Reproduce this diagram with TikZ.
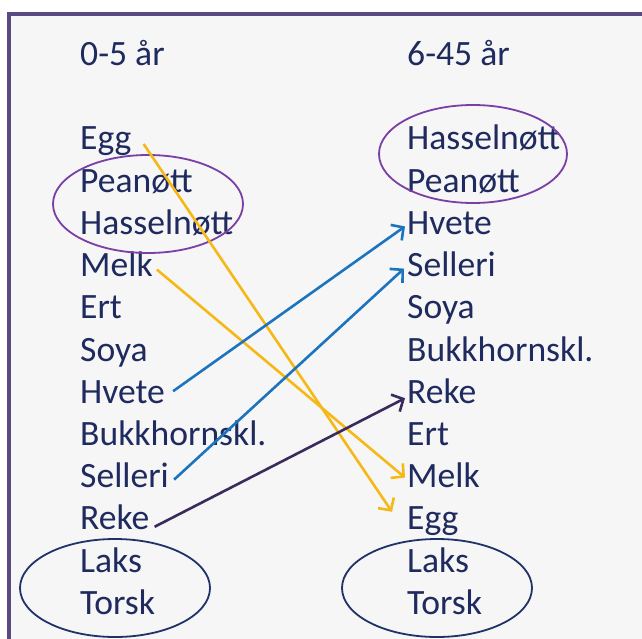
\documentclass[tikz,border=0pt]{standalone}
\usepackage{fontspec}
\setmainfont{Carlito}
\usetikzlibrary{arrows.meta}

\definecolor{txtnavy}{HTML}{1F2A5E}
\definecolor{panelbg}{HTML}{F6F6F6}
\definecolor{framepurple}{HTML}{5A4A82}
\definecolor{ringpurple}{HTML}{7A3FA5}
\definecolor{ringnavy}{HTML}{1F3269}
\definecolor{arrowgold}{HTML}{F6B817}
\definecolor{arrowblue}{HTML}{1C74BE}
\definecolor{arrowplum}{HTML}{3B2A5C}

\tikzset{
  item/.style={anchor=base west, inner sep=0pt, text=txtnavy,
    font=\fontsize{35.6}{42}\selectfont},
  link/.style={line width=2.6pt,
    -{Straight Barb[length=9pt,width=19pt,line width=2.6pt]}},
  goldlink/.style={link, draw=arrowgold},
  bluelink/.style={link, draw=arrowblue},
  plumlink/.style={link, draw=arrowplum},
  ring/.style={line width=1.8pt}
}

\begin{document}
\begin{tikzpicture}[x=1pt,y=-1pt]
  \useasboundingbox (0,0) rectangle (642,639);
  \fill[white] (0,0) rectangle (642,639);
  \fill[panelbg] (9,14) rectangle (642,639);
  \draw[framepurple, line width=3.5pt] (9,641) -- (9,14) -- (644,14);

  % column headers
  \node[item] (hleft)  at (80,66)  {0-5 år};
  \node[item] (hright) at (407,66) {6-45 år};

  % left column, 0-5 years
  \node[item] (lEgg)   at (80,150.0) {Egg};
  \node[item] (lPean)  at (80,192.2) {Peanøtt};
  \node[item] (lHass)  at (80,234.4) {Hasselnøtt};
  \node[item] (lMelk)  at (80,276.6) {Melk};
  \node[item] (lErt)   at (80,318.8) {Ert};
  \node[item] (lSoya)  at (80,361.0) {Soya};
  \node[item] (lHvete) at (80,403.2) {Hvete};
  \node[item] (lBukk)  at (80,445.4) {Bukkhornskl.};
  \node[item] (lSell)  at (80,487.6) {Selleri};
  \node[item] (lReke)  at (80,529.8) {Reke};
  \node[item] (lLaks)  at (80,572.0) {Laks};
  \node[item] (lTorsk) at (80,614.2) {Torsk};

  % right column, 6-45 years
  \node[item] (rHass)  at (407,150.0) {Hasselnøtt};
  \node[item] (rPean)  at (407,192.2) {Peanøtt};
  \node[item] (rHvete) at (407,234.4) {Hvete};
  \node[item] (rSell)  at (407,276.6) {Selleri};
  \node[item] (rSoya)  at (407,318.8) {Soya};
  \node[item] (rBukk)  at (407,361.0) {Bukkhornskl.};
  \node[item] (rReke)  at (407,403.2) {Reke};
  \node[item] (rErt)   at (407,445.4) {Ert};
  \node[item] (rMelk)  at (407,487.6) {Melk};
  \node[item] (rEgg)   at (407,529.8) {Egg};
  \node[item] (rLaks)  at (407,572.0) {Laks};
  \node[item] (rTorsk) at (407,614.2) {Torsk};

  % groupings
  \draw[ring, ringpurple] (148,204) ellipse [x radius=95, y radius=49];
  \draw[ring, ringpurple] (473,154) ellipse [x radius=94, y radius=49];
  \draw[ring, ringnavy]   (115,588) ellipse [x radius=95, y radius=49];
  \draw[ring, ringnavy]   (437,588) ellipse [x radius=95, y radius=49];

  % shifts in rank
  \draw[goldlink] ([shift={(12,-6)}]lEgg.base east)   -- ([shift={(-15,-18)}]rEgg.base west);
  \draw[goldlink] ([shift={(4,-7)}]lMelk.base east)   -- ([shift={(-2,-10)}]rMelk.base west);
  \draw[bluelink] ([shift={(8,-12)}]lHvete.base east) -- ([shift={(-2,-8)}]rHvete.base west);
  \draw[bluelink] ([shift={(5,-8)}]lSell.base east)   -- ([shift={(-3,-8)}]rSell.base west);
  \draw[plumlink] ([shift={(5,-3)}]lReke.base east)   -- ([shift={(-2,-5)}]rReke.base west);
\end{tikzpicture}
\end{document}
